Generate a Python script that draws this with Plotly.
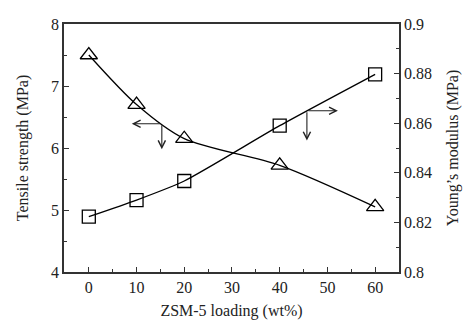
import plotly.graph_objects as go

loading = [0, 10, 20, 40, 60]
tensile = [7.5, 6.7, 6.15, 5.72, 5.05]
modulus = [0.8223, 0.829, 0.8367, 0.859, 0.8797]

FONT = "Liberation Serif"
fig = go.Figure()
fig.add_trace(go.Scatter(x=loading, y=tensile, mode="lines+markers",
                         line=dict(color="black", width=1.3, shape="spline", smoothing=0.8),
                         marker=dict(symbol="triangle-up-open", size=15, color="black",
                                     line=dict(width=1.3)),
                         showlegend=False, yaxis="y"))
fig.add_trace(go.Scatter(x=loading, y=modulus, mode="lines+markers",
                         line=dict(color="black", width=1.3, shape="spline", smoothing=0.6),
                         marker=dict(symbol="square-open", size=13, color="black",
                                     line=dict(width=1.3)),
                         showlegend=False, yaxis="y2"))

ax_common = dict(showline=True, linecolor="#333", linewidth=1.5, ticks="inside",
                 ticklen=5, tickcolor="#333", showgrid=False, zeroline=False,
                 tickfont=dict(family=FONT, size=16, color="#222"))

fig.update_layout(
    width=474, height=335, margin=dict(l=64, r=75, t=24, b=63),
    plot_bgcolor="white", paper_bgcolor="white",
    xaxis=dict(range=[-5.2, 65], tickmode="array", tickvals=[0, 10, 20, 30, 40, 50, 60],
               mirror=True,
               minor=dict(tickvals=[5, 15, 25, 35, 45, 55], ticks="inside", ticklen=3, tickcolor="#333"),
               title=dict(text="ZSM-5 loading (wt%)", font=dict(family=FONT, size=16, color="#222"), standoff=10),
               **ax_common),
    yaxis=dict(range=[4, 8], tickvals=[4, 5, 6, 7, 8],
               minor=dict(tickvals=[4.5, 5.5, 6.5, 7.5], ticks="inside", ticklen=3, tickcolor="#333"),
               title=dict(text="Tensile strength (MPa)", font=dict(family=FONT, size=16, color="#222"), standoff=18),
               **ax_common),
    yaxis2=dict(range=[0.8, 0.9], overlaying="y", side="right",
                tickvals=[0.8, 0.82, 0.84, 0.86, 0.88, 0.9],
                ticktext=["0.8", "0.82", "0.84", "0.86", "0.88", "0.9"],
                minor=dict(tickvals=[0.81, 0.83, 0.85, 0.87, 0.89], ticks="inside", ticklen=3, tickcolor="#333"),
                title=dict(text="Young’s modulus (MPa)", font=dict(family=FONT, size=16, color="#222"), standoff=16),
                **ax_common),
)

arrows = [
    (15.3, 6.39, 9.0, 6.39),
    (15.3, 6.39, 15.3, 5.98),
    (45.7, 6.6, 52.2, 6.6),
    (45.7, 6.6, 45.7, 6.12),
]
for x0, y0, x1, y1 in arrows:
    fig.add_annotation(x=x1, y=y1, ax=x0, ay=y0, xref="x", yref="y", axref="x", ayref="y",
                       text="", showarrow=True, arrowhead=5, arrowsize=1.3, arrowwidth=1.1,
                       arrowcolor="#222")

fig.write_html("out.html")
